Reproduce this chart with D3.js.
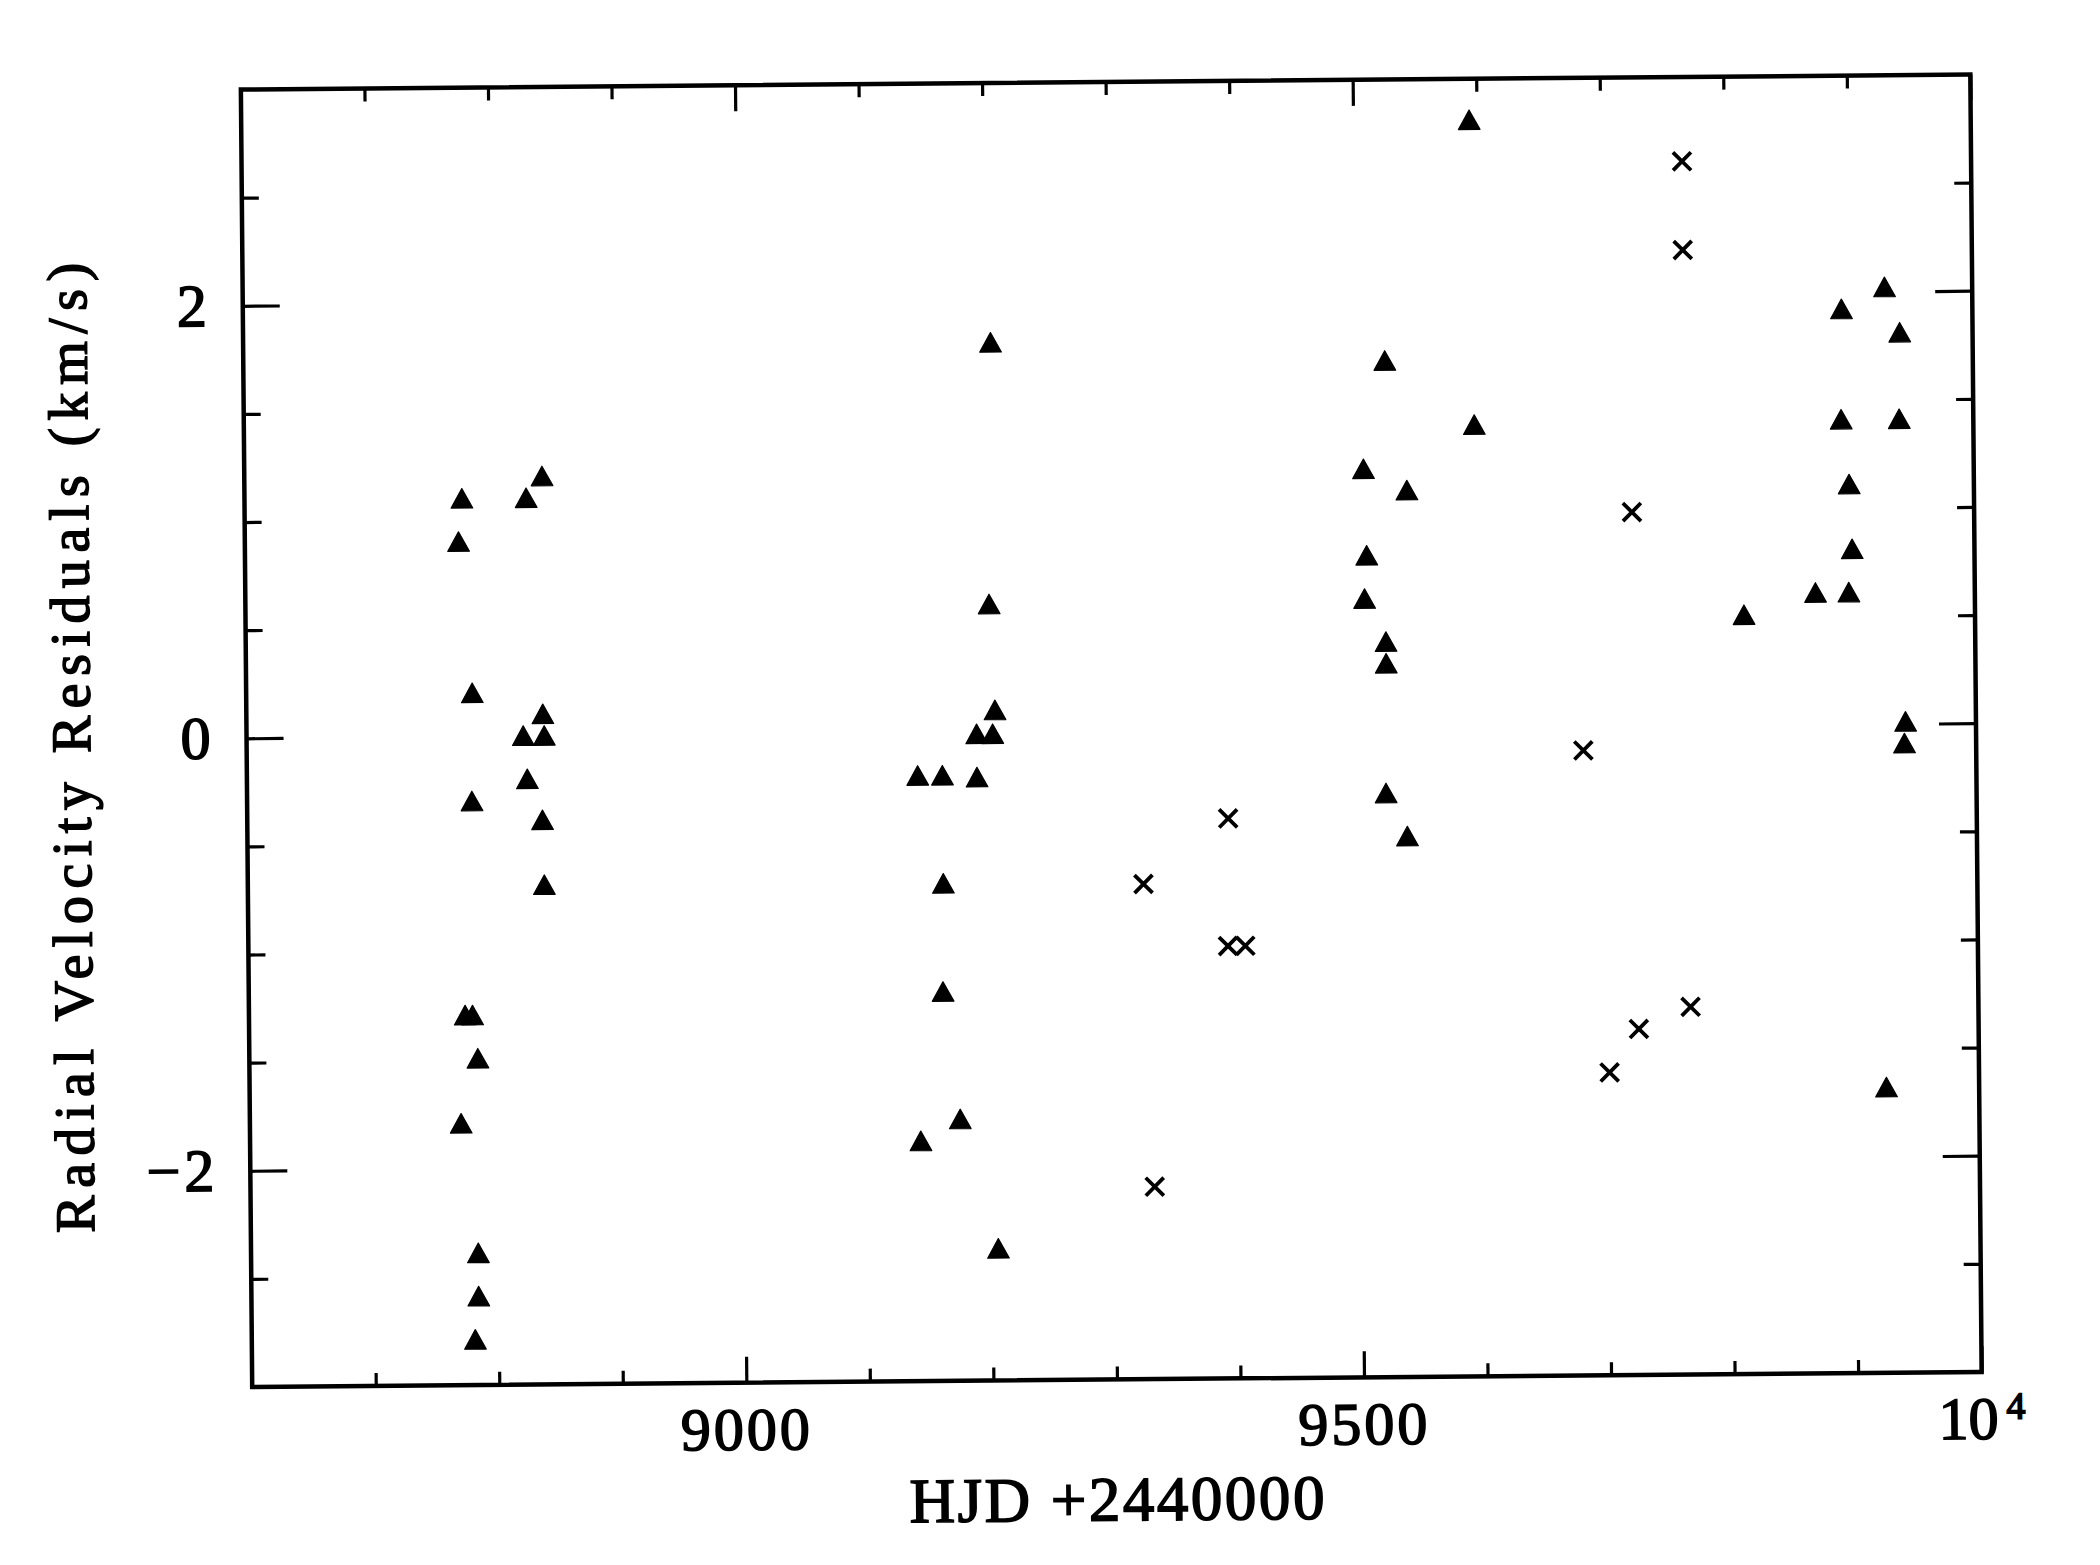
<!DOCTYPE html>
<html>
<head>
<meta charset="utf-8">
<script src="https://cdn.jsdelivr.net/npm/d3@7"></script>
<style>
  html, body { margin: 0; padding: 0; background: #ffffff; }
  svg { display: block; }
</style>
</head>
<body>
<script>
// ---------------- data ----------------
// Filled triangles
const triHJD = [
  8841, 8776, 8828, 8773, 8783, 8840, 8824, 8841, 8827, 8782,
  8839, 8840, 8775, 8781, 8785, 8771, 8784, 8784, 8781,
  9205, 9202, 9206, 9191, 9204, 9143, 9163, 9191, 9163, 9162,
  9175, 9143, 9205,
  9594, 9524, 9596, 9506, 9541, 9508, 9506, 9523, 9523, 9522, 9539,
  9929, 9894, 9941, 9893, 9940, 9899, 9901, 9871, 9898, 9813,
  9943, 9942, 9925
];
const triRV = [
  1.20, 1.10, 1.10, 0.90, 0.20, 0.10, 0.00, 0.00, -0.20, -0.30,
  -0.39, -0.69, -1.29, -1.29, -1.49, -1.79, -2.39, -2.59, -2.79,
  1.80, 0.59, 0.10, -0.01, -0.01, -0.20, -0.20, -0.21, -0.70, -1.20,
  -1.79, -1.89, -2.39,
  2.81, 1.70, 1.40, 1.20, 1.10, 0.80, 0.60, 0.40, 0.30, -0.30, -0.50,
  2.02, 1.92, 1.81, 1.41, 1.41, 1.11, 0.81, 0.61, 0.61, 0.51,
  0.01, -0.09, -1.68
];
// Crosses
const crossHJD = [9325, 9332, 9394, 9393, 9407, 9766, 9766, 9723, 9682, 9767, 9725, 9701];
const crossRV  = [-0.71, -2.11, -0.41, -1.00, -1.00, 2.61, 2.20, 0.99, -0.11, -1.30, -1.40, -1.60];

// Axes
const xDomain = [8600, 10000];
const yDomain = [-3, 3];
const xMajorTicks = [9000, 9500, 10000];
const xTickLabels = ["9000", "9500", "10"];
const xTickExponent = ["", "", "4"];
const xMinorTicks = [8700, 8800, 8900, 9100, 9200, 9300, 9400, 9600, 9700, 9800, 9900];
const yMajorTicks = [-2, 0, 2];
const yTickLabels = ["\u22122", "0", "2"];
const yMinorTicks = [-2.5, -1.5, -1, -0.5, 0.5, 1, 1.5, 2.5];
const xTitle = "HJD +2440000";
const yTitle = "Radial Velocity Residuals (km/s)";

// ---------------- layout ----------------
const W = 2100, H = 1565;
const L = 246.5, R = 1976, T = 82, B = 1379.5;
const FONT = "'Liberation Serif', 'Times New Roman', serif";

const x = d3.scaleLinear().domain(xDomain).range([L, R]);
const y = d3.scaleLinear().domain(yDomain).range([B, T]);

const svg = d3.select("body").append("svg")
  .attr("width", W).attr("height", H)
  .attr("viewBox", `0 0 ${W} ${H}`);
svg.append("rect").attr("width", W).attr("height", H).attr("fill", "#fff");

// the scanned original is tilted by about half a degree
const g = svg.append("g").attr("transform", "rotate(-0.5,1111,730)");

// ---------------- ticks (inward, on all four sides) ----------------
function styleAxis(sel) {
  sel.select(".domain").remove();
  sel.selectAll(".tick line").attr("stroke", "#000").attr("stroke-width", 3.2);
  sel.selectAll(".tick text").remove();
}
const xMajLen = 26, xMinLen = 13, yMajLen = 37, yMinLen = 17;

g.append("g").attr("transform", `translate(0,${B})`)
  .call(d3.axisBottom(x).tickValues(xMajorTicks).tickSizeInner(-xMajLen).tickSizeOuter(0).tickFormat(""))
  .call(styleAxis);
g.append("g").attr("transform", `translate(0,${B})`)
  .call(d3.axisBottom(x).tickValues(xMinorTicks).tickSizeInner(-xMinLen).tickSizeOuter(0).tickFormat(""))
  .call(styleAxis);
g.append("g").attr("transform", `translate(0,${T})`)
  .call(d3.axisTop(x).tickValues(xMajorTicks).tickSizeInner(-xMajLen).tickSizeOuter(0).tickFormat(""))
  .call(styleAxis);
g.append("g").attr("transform", `translate(0,${T})`)
  .call(d3.axisTop(x).tickValues(xMinorTicks).tickSizeInner(-xMinLen).tickSizeOuter(0).tickFormat(""))
  .call(styleAxis);
g.append("g").attr("transform", `translate(${L},0)`)
  .call(d3.axisLeft(y).tickValues(yMajorTicks).tickSizeInner(-yMajLen).tickSizeOuter(0).tickFormat(""))
  .call(styleAxis);
g.append("g").attr("transform", `translate(${L},0)`)
  .call(d3.axisLeft(y).tickValues(yMinorTicks).tickSizeInner(-yMinLen).tickSizeOuter(0).tickFormat(""))
  .call(styleAxis);
g.append("g").attr("transform", `translate(${R},0)`)
  .call(d3.axisRight(y).tickValues(yMajorTicks).tickSizeInner(-yMajLen).tickSizeOuter(0).tickFormat(""))
  .call(styleAxis);
g.append("g").attr("transform", `translate(${R},0)`)
  .call(d3.axisRight(y).tickValues(yMinorTicks).tickSizeInner(-yMinLen).tickSizeOuter(0).tickFormat(""))
  .call(styleAxis);

// frame
g.append("rect")
  .attr("x", L).attr("y", T).attr("width", R - L).attr("height", B - T)
  .attr("fill", "none").attr("stroke", "#000").attr("stroke-width", 4.5);

// ---------------- tick labels ----------------
const xl = g.append("g").attr("font-family", FONT).attr("fill", "#000")
  .attr("stroke", "#000").attr("stroke-width", 1.6);
xMajorTicks.forEach((v, i) => {
  const t = xl.append("text")
    .attr("x", x(v)).attr("y", B + 67)
    .attr("text-anchor", "middle")
    .attr("font-size", 60)
    .attr("letter-spacing", xTickExponent[i] ? 0 : 3);
  t.append("tspan").text(xTickLabels[i]);
  if (xTickExponent[i]) {
    t.append("tspan").attr("font-size", 38).attr("dx", 8).attr("dy", -20).text(xTickExponent[i]);
  }
});

const yl = g.append("g").attr("font-family", FONT).attr("fill", "#000")
  .attr("stroke", "#000").attr("stroke-width", 1.6);
yMajorTicks.forEach((v, i) => {
  yl.append("text")
    .attr("x", L - 32).attr("y", y(v) + 20)
    .attr("text-anchor", "end")
    .attr("font-size", 60)
    .attr("letter-spacing", 4)
    .text(yTickLabels[i]);
});

// ---------------- axis titles ----------------
g.append("text")
  .attr("x", (L + R) / 2 - 1).attr("y", B + 141)
  .attr("text-anchor", "middle")
  .attr("font-family", FONT).attr("font-size", 63)
  .attr("stroke", "#000").attr("stroke-width", 1.6)
  .attr("textLength", 415).attr("lengthAdjust", "spacing")
  .text(xTitle);

g.append("text")
  .attr("transform", `translate(90,${(T + B) / 2 + 8}) rotate(-90)`)
  .attr("text-anchor", "middle")
  .attr("font-family", FONT).attr("font-size", 56)
  .attr("stroke", "#000").attr("stroke-width", 1.5)
  .attr("textLength", 970).attr("lengthAdjust", "spacing")
  .text(yTitle);

// ---------------- marks ----------------
const triPath = "M0,-10L10.8,9.5L-10.8,9.5Z";
g.append("g").selectAll("path")
  .data(d3.range(triHJD.length))
  .join("path")
  .attr("d", triPath)
  .attr("transform", i => `translate(${x(triHJD[i])},${y(triRV[i])})`)
  .attr("fill", "#000")
  .attr("stroke", "#000").attr("stroke-width", 1.2).attr("stroke-linejoin", "round");

const crossPath = "M-9,-9L9,9M-9,9L9,-9";
g.append("g").selectAll("path")
  .data(d3.range(crossHJD.length))
  .join("path")
  .attr("d", crossPath)
  .attr("transform", i => `translate(${x(crossHJD[i])},${y(crossRV[i])})`)
  .attr("fill", "none")
  .attr("stroke", "#000").attr("stroke-width", 3.8);
</script>
</body>
</html>
